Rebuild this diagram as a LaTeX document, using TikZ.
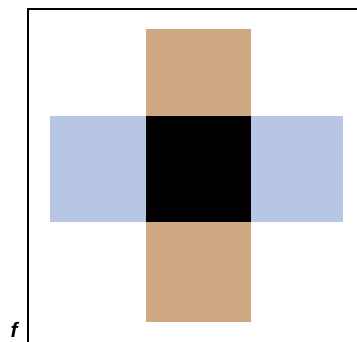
\documentclass[tikz,border=0pt]{standalone}
\usepackage{fontspec}
\setmainfont{Liberation Sans}
\definecolor{tanc}{RGB}{205,168,130}
\definecolor{bluec}{RGB}{183,198,228}
\tikzset{
  frameline/.style={line width=1.6pt, black},
  lbl/.style={font=\fontsize{21}{21}\selectfont\bfseries\itshape, inner sep=0pt, anchor=base}
}
\begin{document}
\begin{tikzpicture}[x=1pt,y=-1pt]
\useasboundingbox (0,0) rectangle (357,342);
\fill[tanc] (146,29) rectangle (251,322);
\fill[bluec] (50,116) rectangle (343,222);
\fill[black] (146,116) rectangle (251,222);
\coordinate (fb) at (28,342);
\coordinate (fc) at (28,9);
\coordinate (fr) at (357,9);
\draw[frameline] (fb) -- (fc) -- (fr);
\node[lbl] (f) at (14,338) {f};
\end{tikzpicture}
\end{document}
